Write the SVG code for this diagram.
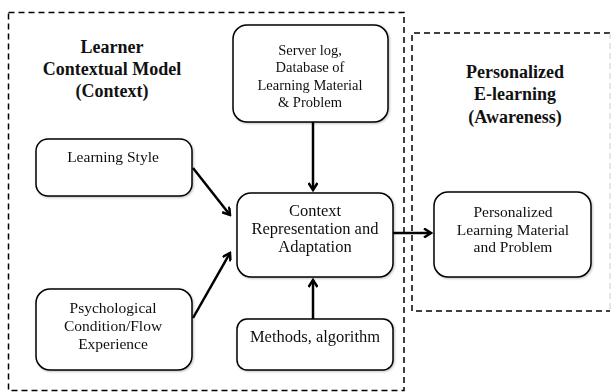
<svg xmlns="http://www.w3.org/2000/svg" width="613" height="392" viewBox="0 0 613 392">
<style>
.frame{fill:none;stroke:#000;stroke-width:1.5;stroke-dasharray:6 4}
.box{fill:#fff;stroke:#000;stroke-width:1.5}
.t{font-family:"Liberation Serif","DejaVu Serif",serif;font-size:15.5px;fill:#111;text-anchor:middle}
.s{font-size:14.5px}
.l{font-size:16.5px}
.h{font-family:"Liberation Serif","DejaVu Serif",serif;font-size:18px;font-weight:bold;fill:#111;text-anchor:middle}
.c{fill:none;stroke:#000;stroke-width:2.5}
</style>
<defs>
<marker id="arr" markerWidth="10" markerHeight="10" refX="8" refY="5" orient="auto" markerUnits="userSpaceOnUse">
<path d="M1,0.5 L8,5 L1,9.5" fill="none" stroke="#000" stroke-width="2.5"/>
</marker>
<filter id="sh" x="-10%" y="-10%" width="120%" height="130%">
<feGaussianBlur in="SourceAlpha" stdDeviation="1"/>
<feOffset dx="1" dy="1" result="b"/>
<feFlood flood-color="#000" flood-opacity="0.25"/>
<feComposite in2="b" operator="in"/>
<feMerge><feMergeNode/><feMergeNode in="SourceGraphic"/></feMerge>
</filter>
</defs>
<rect width="613" height="392" fill="#fff"/>
<g id="frame-context">
<rect class="frame" x="8.5" y="12.5" width="395.5" height="378"/>
<text class="h" x="112" y="53">Learner</text>
<text class="h" x="112" y="75">Contextual Model</text>
<text class="h" x="112" y="97">(Context)</text>
</g>
<g id="frame-awareness">
<path class="frame" d="M610,33 L412,33 L412,311 L610,311"/>
<path d="M610,33 L610,311" fill="none" stroke="#ccc" stroke-width="1" stroke-dasharray="6 4"/>
<text class="h" x="515" y="78">Personalized</text>
<text class="h" x="515" y="100">E-learning</text>
<text class="h" x="515" y="123">(Awareness)</text>
</g>
<g id="connectors">
<line class="c" x1="313" y1="122" x2="313" y2="190" marker-end="url(#arr)"/>
<line class="c" x1="193" y1="168" x2="230" y2="215" marker-end="url(#arr)"/>
<line class="c" x1="193" y1="318" x2="230" y2="253" marker-end="url(#arr)"/>
<line class="c" x1="313" y1="319" x2="313" y2="280" marker-end="url(#arr)"/>
<line class="c" x1="393" y1="233" x2="431" y2="233" marker-end="url(#arr)"/>
</g>
<g id="server-log" filter="url(#sh)">
<rect class="box" x="233" y="25" width="155" height="97" rx="14"/>
<text class="t s" x="310" y="55">Server log,</text>
<text class="t s" x="310" y="72">Database of</text>
<text class="t s" x="310" y="90">Learning Material</text>
<text class="t s" x="310" y="107">&amp; Problem</text>
</g>
<g id="learning-style" filter="url(#sh)">
<rect class="box" x="36" y="139" width="156" height="57" rx="12"/>
<text class="t" x="113" y="162">Learning Style</text>
</g>
<g id="context" filter="url(#sh)">
<rect class="box" x="237" y="193" width="156" height="84" rx="14"/>
<text class="t l" x="315" y="216">Context</text>
<text class="t l" x="315" y="234">Representation and</text>
<text class="t l" x="315" y="252">Adaptation</text>
</g>
<g id="psychological" filter="url(#sh)">
<rect class="box" x="36" y="289" width="156" height="81" rx="14"/>
<text class="t" x="113" y="313">Psychological</text>
<text class="t" x="113" y="331">Condition/Flow</text>
<text class="t" x="113" y="349">Experience</text>
</g>
<g id="methods" filter="url(#sh)">
<rect class="box" x="237" y="319" width="156" height="51" rx="10"/>
<text class="t l" x="315" y="342">Methods, algorithm</text>
</g>
<g id="personalized" filter="url(#sh)">
<rect class="box" x="434" y="192" width="157" height="85" rx="14"/>
<text class="t" x="513" y="217">Personalized</text>
<text class="t" x="513" y="235">Learning Material</text>
<text class="t" x="513" y="252">and Problem</text>
</g>
</svg>
